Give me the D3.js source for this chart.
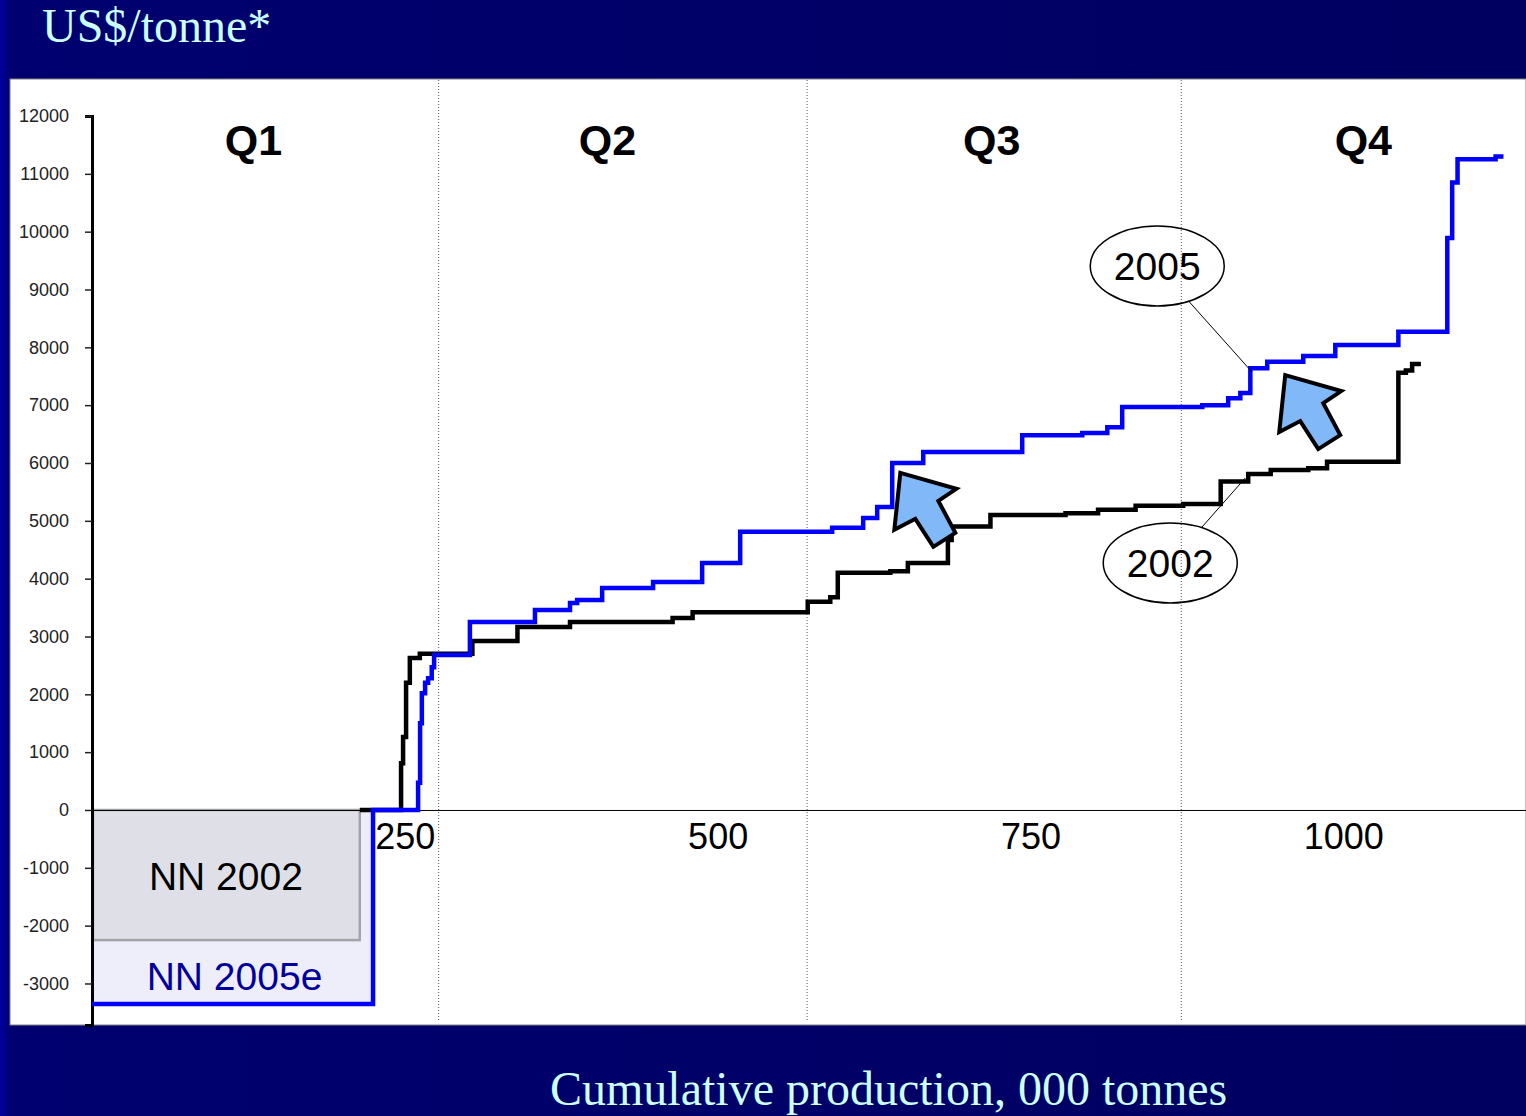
<!DOCTYPE html>
<html>
<head>
<meta charset="utf-8">
<script src="https://cdn.jsdelivr.net/npm/d3@7"></script>
<style>
  body { margin: 0; background: #000060; }
  svg { display: block; }
</style>
</head>
<body>
<div id="chart"></div>
<script>
// Cost curve: cumulative production (000 t) where each step starts, and its cost (US$/t)
const cum2002  = [0, 214, 247, 248.6, 251, 254, 262, 304, 340, 382, 464, 480, 572, 590, 596, 638, 652, 684, 687, 718, 778, 804, 834, 872, 902, 924, 942, 972, 987, 1044, 1050, 1055, 1062];
const cost2002 = [-2250, 0, 810, 1260, 2200, 2630, 2700, 2920, 3165, 3250, 3320, 3420, 3600, 3680, 4100, 4130, 4270, 4670, 4900, 5100, 5130, 5190, 5260, 5290, 5680, 5810, 5880, 5910, 6020, 7560, 7600, 7710, 7710];

const cum2005  = [0, 224.6, 260.6, 262.2, 263.6, 266.2, 268.6, 271.5, 273.4, 302, 354, 382, 387.7, 407.7, 448.4, 487.6, 518, 591.5, 616.3, 627.5, 639.5, 664.3, 743.4, 791.4, 811.4, 823.3, 887.3, 908, 917.7, 925.7, 939.2, 968, 993.6, 1044, 1083.1, 1087, 1091.3, 1121.7, 1128];
const cost2005 = [-3355, 0, 470, 1500, 2020, 2200, 2280, 2470, 2680, 3250, 3460, 3580, 3630, 3840, 3940, 4270, 4810, 4880, 5050, 5240, 6000, 6190, 6480, 6520, 6620, 6970, 7000, 7120, 7210, 7640, 7750, 7850, 8040, 8270, 9890, 10850, 11250, 11300, 11300];

const yTicks = [-3000, -2000, -1000, 0, 1000, 2000, 3000, 4000, 5000, 6000, 7000, 8000, 9000, 10000, 11000, 12000];
const xTicks = [250, 500, 750, 1000];

const quarterBounds = [277, 571.5, 870.5];
const quarterLabels = ['Q1', 'Q2', 'Q3', 'Q4'];
const quarterLabelX = [129, 412, 719, 1016];

const nnLabels = ['NN 2002', 'NN 2005e'];

// callouts: label, ellipse centre (data), leader target (data)
const callouts = [
  { label: '2005', cx: 851.3, cy: 9407, tx: 927, ty: 7574 },
  { label: '2002', cx: 861.7, cy: 4271, tx: 921.7, ty: 5741 }
];
// block arrows, tip in data coords
const arrowTips = [[646, 5830], [953.6, 7520]];

const W = 1526, H = 1116;
const x = d3.scaleLinear().domain([0, 1146]).range([92, 1526]);
const y = d3.scaleLinear().domain([-3718, 12000]).range([1025, 116]);

const svg = d3.select('#chart').append('svg')
  .attr('width', W).attr('height', H);

const defs = svg.append('defs');
const grad = defs.append('linearGradient').attr('id', 'bg').attr('x1', 0).attr('x2', 1).attr('y1', 0).attr('y2', 0);
grad.append('stop').attr('offset', '0%').attr('stop-color', '#0000a0');
grad.append('stop').attr('offset', '0.7%').attr('stop-color', '#000070');
grad.append('stop').attr('offset', '100%').attr('stop-color', '#000060');

svg.append('rect').attr('width', W).attr('height', H).attr('fill', 'url(#bg)');

// plot area
svg.append('rect')
  .attr('x', 10).attr('y', 79).attr('width', W - 10).attr('height', 946)
  .attr('fill', '#fff').attr('stroke', '#808080').attr('stroke-width', 1);

// titles
svg.append('text')
  .attr('x', 42).attr('y', 42)
  .attr('font-family', '"Liberation Serif", "Times New Roman", serif')
  .attr('font-size', 48).attr('fill', '#ccffff')
  .text('US$/tonne*');

svg.append('text')
  .attr('x', 550).attr('y', 1105)
  .attr('font-family', '"Liberation Serif", "Times New Roman", serif')
  .attr('font-size', 48).attr('fill', '#ccffff')
  .text('Cumulative production, 000 tonnes');

// quartile dividers
svg.append('g').selectAll('line').data(quarterBounds).join('line')
  .attr('x1', d => x(d)).attr('x2', d => x(d))
  .attr('y1', 80).attr('y2', 1022)
  .attr('stroke', '#555').attr('stroke-width', 1)
  .attr('stroke-dasharray', '1,2');

svg.append('g').selectAll('text').data(quarterLabels).join('text')
  .attr('x', (d, i) => x(quarterLabelX[i]))
  .attr('y', 155)
  .attr('text-anchor', 'middle')
  .attr('font-family', 'Arial, "Liberation Sans", sans-serif')
  .attr('font-weight', 'bold').attr('font-size', 43)
  .text(d => d);

// NN boxes (first step of each curve)
svg.append('rect')
  .attr('x', x(cum2005[0])).attr('y', y(0))
  .attr('width', x(cum2005[1]) - x(cum2005[0]))
  .attr('height', y(cost2005[0]) - y(0))
  .attr('fill', '#eeeefb').attr('stroke', '#5a5aff').attr('stroke-width', 1.5);

svg.append('rect')
  .attr('x', x(cum2002[0]) + 1).attr('y', y(0))
  .attr('width', x(cum2002[1]) - x(cum2002[0]) - 1)
  .attr('height', y(cost2002[0]) - y(0))
  .attr('fill', '#dfe0e7').attr('stroke', '#a4a4a8').attr('stroke-width', 2.5);

svg.append('text')
  .attr('x', (x(cum2002[0]) + x(cum2002[1])) / 2).attr('y', 890)
  .attr('text-anchor', 'middle')
  .attr('font-family', 'Arial, "Liberation Sans", sans-serif')
  .attr('font-size', 39).attr('fill', '#000')
  .text(nnLabels[0]);

svg.append('text')
  .attr('x', (x(cum2005[0]) + x(cum2005[1])) / 2 + 2).attr('y', 990)
  .attr('text-anchor', 'middle')
  .attr('font-family', 'Arial, "Liberation Sans", sans-serif')
  .attr('font-size', 39).attr('fill', '#00009c')
  .text(nnLabels[1]);

// axes
const plainNum = d => String(d);
const yAxis = svg.append('g')
  .attr('transform', `translate(${x(0)},0)`)
  .call(d3.axisLeft(y).tickValues(yTicks).tickSizeOuter(0).tickSize(7).tickPadding(16).tickFormat(plainNum));
yAxis.select('.domain').attr('stroke', '#000').attr('stroke-width', 3);
yAxis.selectAll('.tick line').attr('stroke', '#222').attr('stroke-width', 1.5);
yAxis.selectAll('.tick text')
  .attr('font-family', 'Arial, "Liberation Sans", sans-serif')
  .attr('font-size', 18).attr('fill', '#222');

const xAxis = svg.append('g')
  .attr('transform', `translate(0,${y(0)})`)
  .call(d3.axisBottom(x).tickValues(xTicks).tickSize(0).tickPadding(13).tickSizeOuter(0).tickFormat(plainNum));
xAxis.select('.domain').attr('stroke', '#000').attr('stroke-width', 1);
xAxis.selectAll('.tick text')
  .attr('font-family', 'Arial, "Liberation Sans", sans-serif')
  .attr('font-size', 36).attr('fill', '#000');

// step curves
const step = d3.line().x(d => x(d[0])).y(d => y(d[1])).curve(d3.curveStepAfter);
const pts2002 = cum2002.map((c, i) => [c, cost2002[i]]).slice(1);
const pts2005 = cum2005.map((c, i) => [c, cost2005[i]]);

svg.append('path').datum(pts2002)
  .attr('d', step).attr('fill', 'none')
  .attr('stroke', '#000').attr('stroke-width', 4.5);

svg.append('path').datum(pts2005)
  .attr('d', step).attr('fill', 'none')
  .attr('stroke', '#0000ff').attr('stroke-width', 4.5);

// callouts
const cg = svg.append('g');
callouts.forEach(c => {
  const cx = x(c.cx), cy = y(c.cy), rx = 67, ry = 40;
  const tx = x(c.tx), ty = y(c.ty);
  const ang = Math.atan2((ty - cy) / ry, (tx - cx) / rx);
  cg.append('line')
    .attr('x1', cx + rx * Math.cos(ang)).attr('y1', cy + ry * Math.sin(ang))
    .attr('x2', tx).attr('y2', ty)
    .attr('stroke', '#000').attr('stroke-width', 1);
  cg.append('ellipse')
    .attr('cx', cx).attr('cy', cy).attr('rx', rx).attr('ry', ry)
    .attr('fill', 'none').attr('stroke', '#000').attr('stroke-width', 1.5);
  cg.append('text')
    .attr('x', cx).attr('y', cy + 14)
    .attr('text-anchor', 'middle')
    .attr('font-family', 'Arial, "Liberation Sans", sans-serif')
    .attr('font-size', 39)
    .text(c.label);
});

// block arrows pointing up-left
const arrowShape = [[0, 0], [56, 16], [38, 28], [55, 60], [33, 74], [15, 46], [-6, 57]];
svg.append('g').selectAll('path').data(arrowTips).join('path')
  .attr('d', d => {
    const px = x(d[0]), py = y(d[1]);
    return 'M' + arrowShape.map(p => `${px + p[0]},${py + p[1]}`).join('L') + 'Z';
  })
  .attr('fill', '#80b8f8').attr('stroke', '#000').attr('stroke-width', 4)
  .attr('stroke-linejoin', 'miter');
</script>
</body>
</html>
